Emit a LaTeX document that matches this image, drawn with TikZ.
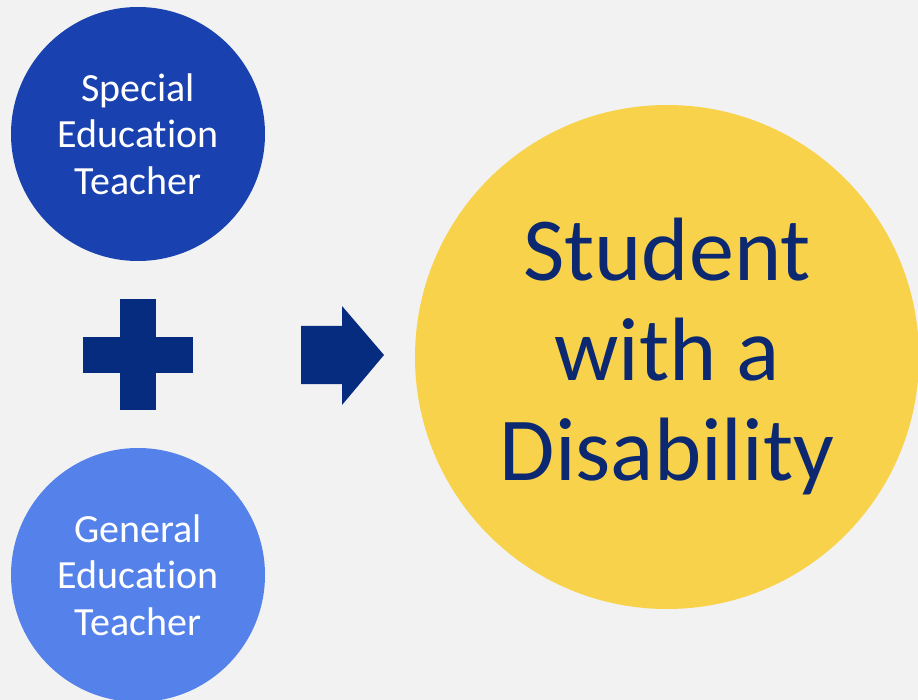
\documentclass[tikz,border=0pt]{standalone}
\usepackage{fontspec}
\setmainfont{Carlito}[Ligatures=NoCommon]
\usetikzlibrary{positioning}

\definecolor{specialblue}{HTML}{1941B0}
\definecolor{generalblue}{HTML}{5582EA}
\definecolor{signnavy}{HTML}{062C80}
\definecolor{studentyellow}{HTML}{F8D24A}
\definecolor{studenttext}{HTML}{0B2870}
\definecolor{backgray}{HTML}{F2F2F2}

\begin{document}
\begin{tikzpicture}[x=1pt, y=-1pt]
    % Background and page size
    \fill[backgray] (0,0) rectangle (918,700);
    \useasboundingbox (0,0) rectangle (918,700);

    % Define circles
    \node[circle, fill=specialblue, minimum size=254pt, text=white, align=center, font=\fontsize{40}{46.5}\selectfont] (special) at (138,134) {Special\\Education\\Teacher};
    \node[circle, fill=generalblue, minimum size=254pt, text=white, align=center, font=\fontsize{40}{46.5}\selectfont] (general) at (138,575) {General\\Education\\Teacher};
    \node[circle, fill=studentyellow, minimum size=504pt, text=studenttext, align=center, font=\fontsize{90}{100}\selectfont] (student) at (667,357) {Student\\with a\\Disability};

    % Draw plus and arrow
    \fill[signnavy] (120,299) rectangle (156,410);
    \fill[signnavy] (83,337) rectangle (193,373);
    \fill[signnavy] (301,326) -- (342,326) -- (342,306) -- (384,355) -- (342,405) -- (342,384) -- (301,384) -- cycle;
\end{tikzpicture}
\end{document}
